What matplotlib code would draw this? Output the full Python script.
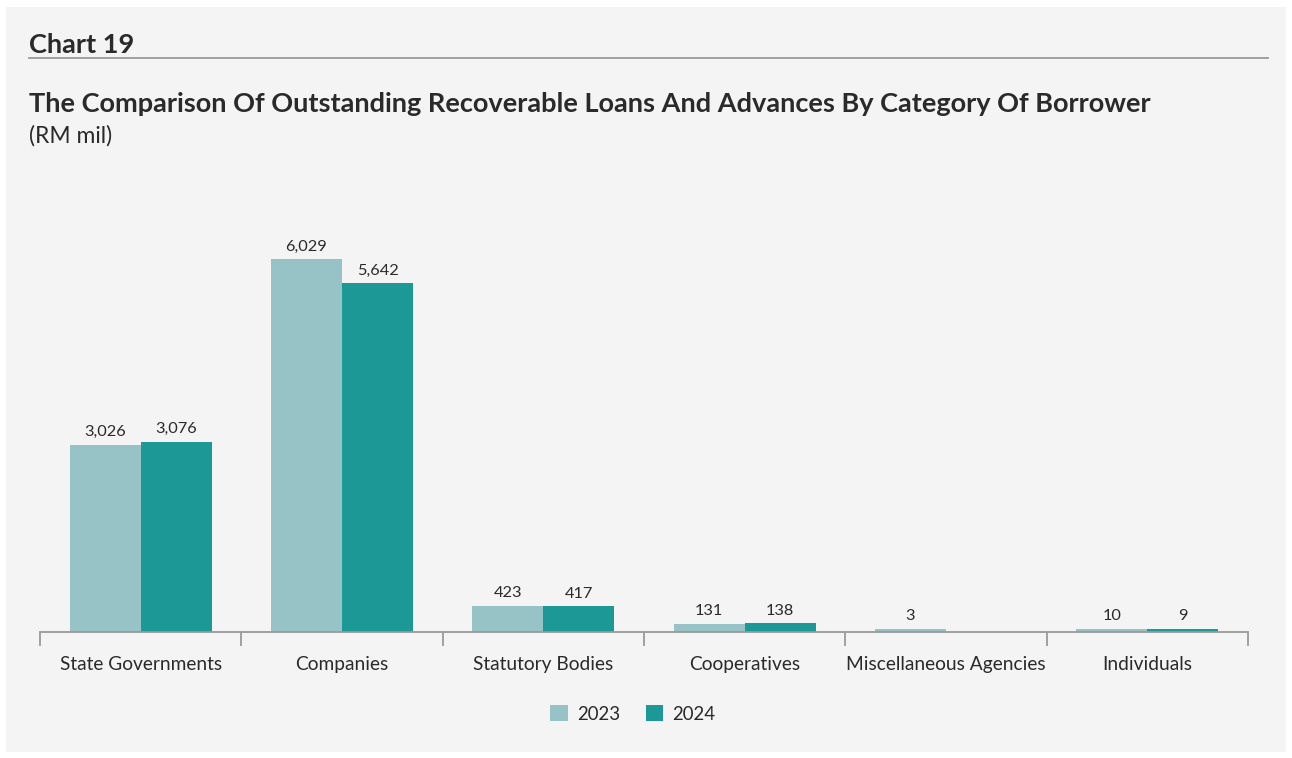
import numpy as np
import matplotlib.pyplot as plt
from matplotlib.patches import Rectangle

# Data (RM mil)
categories = ["State Governments", "Companies", "Statutory Bodies",
              "Cooperatives", "Miscellaneous Agencies", "Individuals"]
values_2023 = [3026, 6029, 423, 131, 3, 10]
values_2024 = [3076, 5642, 417, 138, 0, 9]
labels_2023 = ["3,026", "6,029", "423", "131", "3", "10"]
labels_2024 = ["3,076", "5,642", "417", "138", "", "9"]
years = ["2023", "2024"]

c2023 = "#98c3c6"
c2024 = "#1c9896"
txt = "#2a2a2a"
bg = "#f4f4f4"

plt.rcParams["font.family"] = ["Lato", "DejaVu Sans"]

W, H = 1292, 758
fig = plt.figure(figsize=(W / 100, H / 100), dpi=100)
fig.patch.set_facecolor("white")
fig.patches.append(Rectangle((6 / W, 1 - 752 / H), 1280 / W, 745 / H,
                             transform=fig.transFigure, facecolor=bg,
                             edgecolor="none", zorder=-1))

fig.text(29 / W, 1 - 45 / H, "Chart 19", fontsize=19.5, fontweight="bold",
         color=txt, va="center", ha="left")
fig.add_artist(plt.Line2D([29 / W, 1268 / W], [1 - 58 / H, 1 - 58 / H],
                          transform=fig.transFigure, color="#9a9a9a", lw=1.3))
fig.text(29 / W, 1 - 104 / H,
         "The Comparison Of Outstanding Recoverable Loans And Advances By Category Of Borrower",
         fontsize=19.5, fontweight="bold", color=txt, va="center", ha="left")
fig.text(29 / W, 1 - 136 / H, "(RM mil)", fontsize=16.5, color=txt,
         va="center", ha="left")

# axes: x 40..1248 px, baseline at y=632, top at y=199 (ylim 7000)
ax = fig.add_axes([40 / W, 1 - 632 / H, 1208 / W, 433 / H])
ax.set_facecolor("none")

# tiny non-zero values get a small visible stub, as in the original
min_h = 50
show_2023 = [max(v, min_h) if v > 0 else 0 for v in values_2023]
show_2024 = [max(v, min_h) if v > 0 else 0 for v in values_2024]

x = np.arange(len(categories))
bw = 0.353
b1 = ax.bar(x - bw / 2, show_2023, bw, color=c2023, label=years[0])
b2 = ax.bar(x + bw / 2, show_2024, bw, color=c2024, label=years[1])

for rect, lab in zip(b1, labels_2023):
    ax.annotate(lab, (rect.get_x() + rect.get_width() / 2, rect.get_height()),
                xytext=(0, 4), textcoords="offset points", ha="center",
                va="bottom", fontsize=11.8, color=txt)
for rect, lab in zip(b2, labels_2024):
    ax.annotate(lab, (rect.get_x() + rect.get_width() / 2, rect.get_height()),
                xytext=(0, 4), textcoords="offset points", ha="center",
                va="bottom", fontsize=11.8, color=txt)

ax.set_xlim(-0.5, len(categories) - 0.5)
ax.set_ylim(0, 7000)
ax.set_yticks([])
for s in ["top", "right", "left"]:
    ax.spines[s].set_visible(False)
ax.spines["bottom"].set_color("#9a9a9a")
ax.spines["bottom"].set_linewidth(1.3)

ax.set_xticks(np.arange(len(categories) + 1) - 0.5)
ax.set_xticklabels([])
ax.tick_params(axis="x", length=10, width=1.3, color="#9a9a9a")
ax.set_xticks(x, minor=True)
ax.set_xticklabels(categories, minor=True, fontsize=13.8, color=txt)
ax.tick_params(axis="x", which="minor", length=0, pad=17)

leg = fig.legend(loc="center", bbox_to_anchor=(633 / W, 1 - 714 / H), ncol=2,
                 frameon=False, fontsize=13.4, handlelength=0.95,
                 handleheight=0.95, handletextpad=0.5, columnspacing=1.35)
for t in leg.get_texts():
    t.set_color(txt)

fig.savefig("out.png", dpi=100, facecolor=fig.get_facecolor())
